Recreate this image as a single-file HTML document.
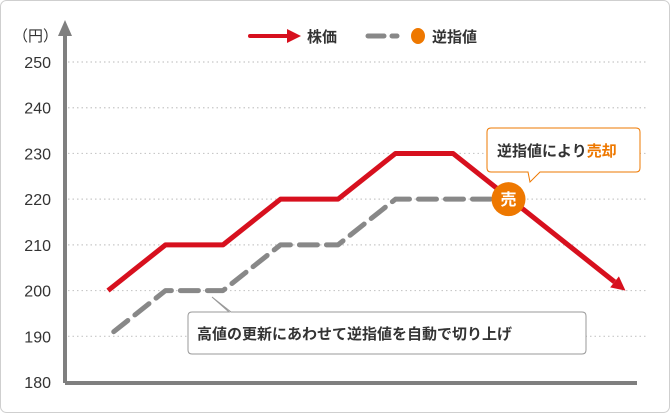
<!DOCTYPE html>
<html><head><meta charset="utf-8"><style>
body{margin:0;background:#fff;}
svg text{font-family:"Liberation Sans","Noto Sans CJK JP",sans-serif;}
</style></head><body>
<svg width="670" height="413" viewBox="0 0 670 413">
<rect x="0.5" y="0.5" width="669" height="412" rx="6" fill="#fff" stroke="#cfcfcf"/>
<g id="grid"></g>
<g id="ylabels"></g>
<line x1="65" y1="383" x2="637" y2="383" stroke="#7f7f7f" stroke-width="4"/>
<line x1="65" y1="383" x2="65" y2="34" stroke="#7f7f7f" stroke-width="4"/>
<polygon points="65,20 58,36 72,36" fill="#7f7f7f"/>
<text x="13" y="41" font-size="15" fill="#333">（円）</text>
<g>
<line x1="250" y1="36" x2="288" y2="36" stroke="#d7101e" stroke-width="4" stroke-linecap="round"/>
<polygon points="287,29 301,36 287,43" fill="#d7101e"/>
<text x="307" y="42" font-size="15" font-weight="bold" fill="#333">株価</text>
<line x1="368" y1="36" x2="384" y2="36" stroke="#888" stroke-width="5" stroke-linecap="round"/>
<line x1="392" y1="36" x2="397" y2="36" stroke="#888" stroke-width="5" stroke-linecap="round"/>
<ellipse cx="418" cy="36" rx="7" ry="8" fill="#ee7800"/>
<text x="432" y="42" font-size="15" font-weight="bold" fill="#333">逆指値</text>
</g>
<g id="series"></g>
<g>
<path d="M491,128 H636 Q640,128 640,132 V168 Q640,172 636,172 H540 L530,182 L528,172 H491 Q487,172 487,168 V132 Q487,128 491,128 Z" fill="#fff" stroke="#ee7800" stroke-width="1"/>
<text x="497" y="156" font-size="15" font-weight="bold" fill="#333">逆指値により<tspan fill="#ee7800">売却</tspan></text>
</g>
<g>
<path d="M192,312 H229 L212,297 L231,312 H582 Q586,312 586,316 V350 Q586,354 582,354 H192 Q188,354 188,350 V316 Q188,312 192,312 Z" fill="#fff" stroke="#999" stroke-width="1"/>
<text x="197" y="339" font-size="15" font-weight="bold" fill="#333">高値の更新にあわせて逆指値を自動で切り上げ</text>
</g>
<g id="sell"></g>
</svg>
<script>
const yTicks=[180,190,200,210,220,230,240,250];
const priceX=[0,1,2,3,4,5,6,9];
const priceY=[200,210,210,220,220,230,230,200];
const stopX=[0.1,1,2,3,4,5,6.8];
const stopY=[191,200,200,210,210,220,220];
const sellX=7; const sellY=220;
const NS="http://www.w3.org/2000/svg";
function xs(i){return 108+57.5*i;}
function ys(v){return 382-(v-180)*4.571;}
function mk(t,a,p){const e=document.createElementNS(NS,t);for(const k in a)e.setAttribute(k,a[k]);p.appendChild(e);return e;}
const grid=document.getElementById('grid'),yl=document.getElementById('ylabels'),ser=document.getElementById('series');
yTicks.forEach(v=>{
 if(v>180){const l=mk('line',{x1:68,x2:648,y1:ys(v),y2:ys(v),stroke:'#c8c8c8','stroke-width':1.2,'stroke-dasharray':'1.5 3'},grid);
 
 }
 const t=mk('text',{x:51,y:ys(v)+6,'font-size':16,fill:'#333','text-anchor':'end'},yl);t.textContent=v;
 
 
});
const sp=stopX.map((x,i)=>xs(x)+','+ys(stopY[i])).join(' ');
const sl=mk('polyline',{points:sp,fill:'none',stroke:'#888','stroke-width':5,'stroke-dasharray':'18 9','stroke-linecap':'round','stroke-linejoin':'round'},ser);


const n=priceX.length;
const ex=xs(priceX[n-1]),ey=ys(priceY[n-1]),px=xs(priceX[n-2]),py=ys(priceY[n-2]);
const ang=Math.atan2(ey-py,ex-px);
const bx=ex-14*Math.cos(ang),by=ey-14*Math.sin(ang);
const pts=priceX.slice(0,n-1).map((x,i)=>xs(x)+','+ys(priceY[i])).concat([bx+','+by]).join(' ');
const pl=mk('polyline',{points:pts,fill:'none',stroke:'#d7101e','stroke-width':5,'stroke-linejoin':'round'},ser);


const nx=-Math.sin(ang),ny=Math.cos(ang);
const ah=mk('polygon',{points:`${ex},${ey} ${bx+7*nx},${by+7*ny} ${bx-7*nx},${by-7*ny}`,fill:'#d7101e'},ser);


const sg=document.getElementById('sell');
const c=mk('circle',{cx:xs(sellX)-2,cy:ys(sellY),r:17,fill:'#ee7800'},sg);


const st=mk('text',{x:xs(sellX)-2,y:ys(sellY)+6,'font-size':16,'font-weight':'bold',fill:'#fff','text-anchor':'middle'},sg);st.textContent='売';


</script>
</body></html>
